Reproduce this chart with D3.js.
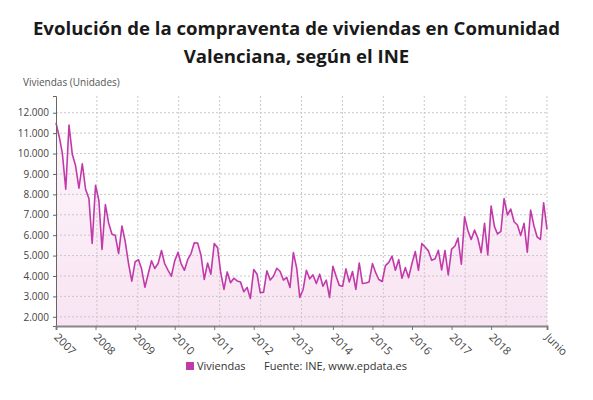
<!DOCTYPE html>
<html>
<head>
<meta charset="utf-8">
<script src="https://cdn.jsdelivr.net/npm/d3@7"></script>
<style>
  body { margin: 0; background: #fff; }
  #chart { width: 593px; height: 400px; }
  text { font-family: 'Open Sans', sans-serif; }
</style>
</head>
<body>
<div id="chart"></div>
<script>
// Compraventa de viviendas, Comunidad Valenciana (INE), mensual ene 2007 - jun 2019
const firstMonth = new Date(2007, 0, 1);
const lastMonth = new Date(2019, 5, 1);
const viviendas = [
  // 2007
  11500, 10800, 10000, 8250, 11400, 9950, 9400, 8300, 9500, 8250, 7800, 5600,
  // 2008
  8450, 7700, 5300, 7500, 6600, 6050, 6000, 5100, 6450, 5700, 4600, 3750,
  // 2009
  4700, 4800, 4350, 3450, 4100, 4750, 4370, 4610, 5250, 4600, 4280, 3990,
  // 2010
  4740, 5160, 4610, 4280, 4800, 5100, 5630, 5620, 5020, 3830, 4640, 4090,
  // 2011
  5590, 5390, 4200, 3340, 4200, 3670, 3890, 3760, 3700, 3230, 3440, 2900,
  // 2012
  4320, 4090, 3180, 3210, 4250, 3800, 3990, 4380, 4220, 3800, 3930, 3440,
  // 2013
  5150, 4370, 2950, 3340, 4280, 3860, 4060, 3630, 4090, 3500, 3800, 2950,
  // 2014
  4480, 3960, 3540, 3500, 4350, 3710, 4220, 3340, 4640, 3630, 3660, 3710,
  // 2015
  4610, 4150, 3830, 3730, 4510, 4670, 4970, 4280, 4800, 3890, 4410, 3920,
  // 2016
  4610, 5200, 4280, 5590, 5420, 5230, 4770, 4840, 5260, 4300, 5250, 4050,
  // 2017
  5320, 5470, 5860, 4580, 6900, 6220, 5790, 6250, 5840, 5140, 6580, 5030,
  // 2018
  7430, 6420, 6060, 6190, 7790, 6990, 7280, 6660, 6500, 5990, 6580, 5170,
  // 2019
  7230, 6450, 5920, 5790, 7590, 6280
];
const yTicks = [2000, 3000, 4000, 5000, 6000, 7000, 8000, 9000, 10000, 11000, 12000];
const xTickLabels = ['2007', '2008', '2009', '2010', '2011', '2012', '2013', '2014', '2015', '2016', '2017', '2018', 'Junio'];
const yDomain = [1550, 12820];

const months = d3.timeMonth.range(firstMonth, d3.timeMonth.offset(lastMonth, 1));
const data = months.map((date, i) => ({ date: date, value: viviendas[i] }));

const width = 593, height = 400;
const margin = { top: 96, right: 46, bottom: 74, left: 56 };
const lineColor = '#c23aa9';

const svg = d3.select('#chart')
  .append('svg')
  .attr('width', width)
  .attr('height', height);

const xScale = d3.scaleTime()
  .domain([firstMonth, lastMonth])
  .range([margin.left, width - margin.right]);
const yScale = d3.scaleLinear()
  .domain(yDomain)
  .range([height - margin.bottom, margin.top]);

const es = d3.formatLocale({ decimal: ',', thousands: '.', grouping: [3], currency: ['', ' €'] });
const fmt = es.format(',');

// title
svg.append('text')
  .attr('x', width / 2)
  .attr('text-anchor', 'middle')
  .style('font-size', '18.6px')
  .style('font-weight', 700)
  .style('fill', '#1a1a1a')
  .selectAll('tspan')
  .data(['Evolución de la compraventa de viviendas en Comunidad', 'Valenciana, según el INE'])
  .enter()
  .append('tspan')
  .attr('x', width / 2)
  .attr('y', (d, i) => 35 + i * 28)
  .text(d => d);

svg.append('text')
  .attr('x', 23)
  .attr('y', 86)
  .style('font-size', '10px')
  .style('fill', '#555')
  .text('Viviendas (Unidades)');

// gradient fill
const defs = svg.append('defs');
const grad = defs.append('linearGradient')
  .attr('id', 'areaFill')
  .attr('x1', 0).attr('y1', 0).attr('x2', 0).attr('y2', 1);
grad.append('stop').attr('offset', '0%').attr('stop-color', '#fdf5fb');
grad.append('stop').attr('offset', '100%').attr('stop-color', '#f8e4f2');

const area = d3.area()
  .x(d => xScale(d.date))
  .y0(yScale(yDomain[0]))
  .y1(d => yScale(d.value));
svg.append('path')
  .datum(data)
  .attr('fill', 'url(#areaFill)')
  .attr('d', area);

// horizontal grid
svg.append('g')
  .selectAll('line')
  .data(yTicks)
  .enter()
  .append('line')
  .attr('x1', margin.left)
  .attr('x2', width - margin.right)
  .attr('y1', d => yScale(d))
  .attr('y2', d => yScale(d))
  .attr('stroke', '#c8c8c8')
  .attr('stroke-width', 1)
  .attr('stroke-dasharray', '2 2');

// vertical grid, 12 equal divisions of the plot
const [gx0, gx1] = xScale.range();
svg.append('g')
  .selectAll('line')
  .data(d3.range(1, 13))
  .enter()
  .append('line')
  .attr('x1', i => gx0 + i * (gx1 - gx0) / 12)
  .attr('x2', i => gx0 + i * (gx1 - gx0) / 12)
  .attr('y1', margin.top)
  .attr('y2', height - margin.bottom)
  .attr('stroke', '#c8c8c8')
  .attr('stroke-width', 1)
  .attr('stroke-dasharray', '2 2');

const line = d3.line()
  .x(d => xScale(d.date))
  .y(d => yScale(d.value));
svg.append('path')
  .datum(data)
  .attr('fill', 'none')
  .attr('stroke', lineColor)
  .attr('stroke-width', 1.6)
  .attr('stroke-linejoin', 'round')
  .attr('d', line);

// y axis
const yAxis = svg.append('g')
  .attr('transform', `translate(${margin.left},0)`)
  .call(d3.axisLeft(yScale).tickValues(yTicks).tickFormat(fmt).tickSize(3).tickPadding(4));
yAxis.select('.domain').attr('stroke', '#666');
yAxis.selectAll('.tick line').attr('stroke', '#666');
yAxis.selectAll('text').style('font-size', '10px').style('fill', '#444').style('font-family', "'Open Sans', sans-serif");

// x axis: January of each year plus the last month
const xTickDates = d3.timeYear.range(firstMonth, d3.timeYear.floor(lastMonth)).concat([lastMonth]);
const xAxis = svg.append('g')
  .attr('transform', `translate(0,${height - margin.bottom})`)
  .call(d3.axisBottom(xScale).tickValues(xTickDates).tickSize(4).tickFormat((d, i) => xTickLabels[i]));
xAxis.select('.domain').attr('stroke', '#888').attr('stroke-width', 2);
xAxis.selectAll('.tick line').attr('stroke', '#777');
xAxis.selectAll('text')
  .attr('y', 0)
  .attr('dy', 0)
  .attr('text-anchor', 'start')
  .attr('transform', 'translate(-3,12) rotate(45)')
  .style('font-size', '11px')
  .style('fill', '#444')
  .style('font-family', "'Open Sans', sans-serif");

// legend
const legend = svg.append('g').attr('transform', 'translate(186,370)');
legend.append('rect')
  .attr('x', 0).attr('y', -8)
  .attr('width', 8).attr('height', 8)
  .attr('fill', lineColor);
legend.append('text')
  .attr('x', 11).attr('y', 0)
  .style('font-size', '11px')
  .style('fill', '#333')
  .text('Viviendas');
legend.append('text')
  .attr('x', 78).attr('y', 0)
  .style('font-size', '11px')
  .style('fill', '#333')
  .text('Fuente: INE, www.epdata.es');
</script>
</body>
</html>
